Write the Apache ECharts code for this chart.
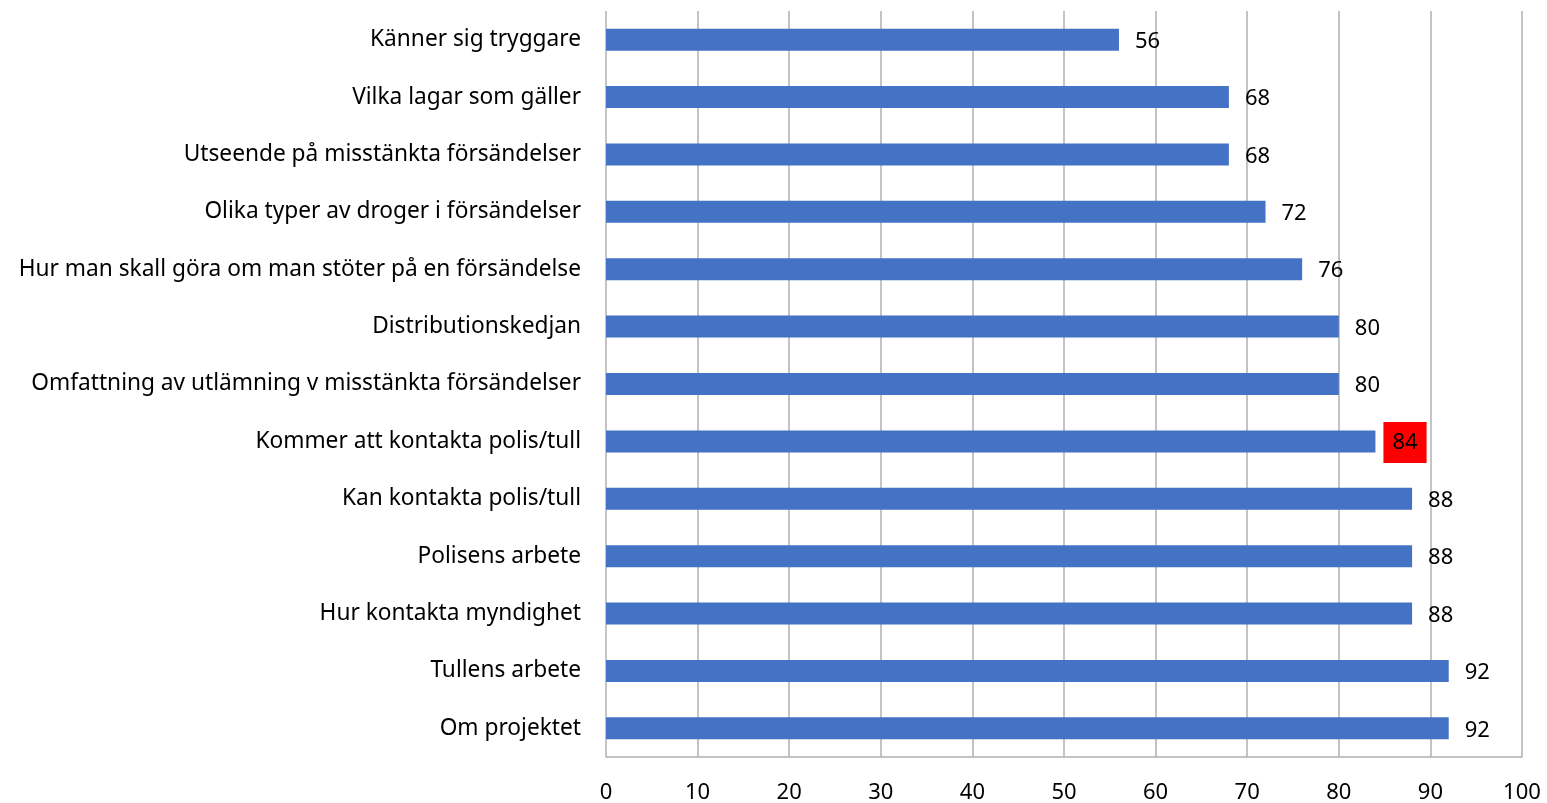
<!DOCTYPE html>
<html><head><meta charset="utf-8">
<script src="https://cdn.jsdelivr.net/npm/echarts@6/dist/echarts.min.js"></script>
<style>html,body{margin:0;padding:0;background:#fff}#c{width:1547px;height:803px}</style>
</head><body><div id="c"></div>
<script>
const categories = [
  "Känner sig tryggare",
  "Vilka lagar som gäller",
  "Utseende på misstänkta försändelser",
  "Olika typer av droger i försändelser",
  "Hur man skall göra om man stöter på en försändelse",
  "Distributionskedjan",
  "Omfattning av utlämning v misstänkta försändelser",
  "Kommer att kontakta polis/tull",
  "Kan kontakta polis/tull",
  "Polisens arbete",
  "Hur kontakta myndighet",
  "Tullens arbete",
  "Om projektet"
];
const values = [56, 68, 68, 72, 76, 80, 80, 84, 88, 88, 88, 92, 92];
const highlighted = "Kommer att kontakta polis/tull";

const FONT = "Noto Sans";
const chart = echarts.init(document.getElementById('c'));
const data = values.map((v, i) => {
  const d = { value: v };
  if (categories[i] === highlighted) {
    d.label = { backgroundColor: '#ff0000', padding: [10, 9, 9, 9], distance: 8, offset: [0, 1] };
  }
  return d;
});
chart.setOption({
  animation: false,
  grid: { left: 606, right: 25, top: 11, bottom: 46, containLabel: false, outerBoundsMode: 'none' },
  xAxis: {
    type: 'value', min: 0, max: 100, interval: 10,
    axisLine: { show: true, lineStyle: { color: '#b0b0b0', width: 1.5 } },
    axisTick: { show: false },
    splitLine: { show: true, lineStyle: { color: '#b0b0b0', width: 1.5 } },
    axisLabel: { color: '#000', fontFamily: FONT, fontSize: 22, margin: 25 }
  },
  yAxis: {
    type: 'category', data: categories, inverse: true,
    axisLine: { show: false }, axisTick: { show: false },
    axisLabel: { color: '#000', fontFamily: FONT, fontSize: 22.7, margin: 25 }
  },
  series: [{
    type: 'bar', data: data, barWidth: 22,
    itemStyle: { color: '#4472C4' },
    label: { show: true, position: 'right', distance: 16, color: '#000', fontFamily: FONT, fontSize: 22, offset: [0, 2] }
  }]
});
</script></body></html>
